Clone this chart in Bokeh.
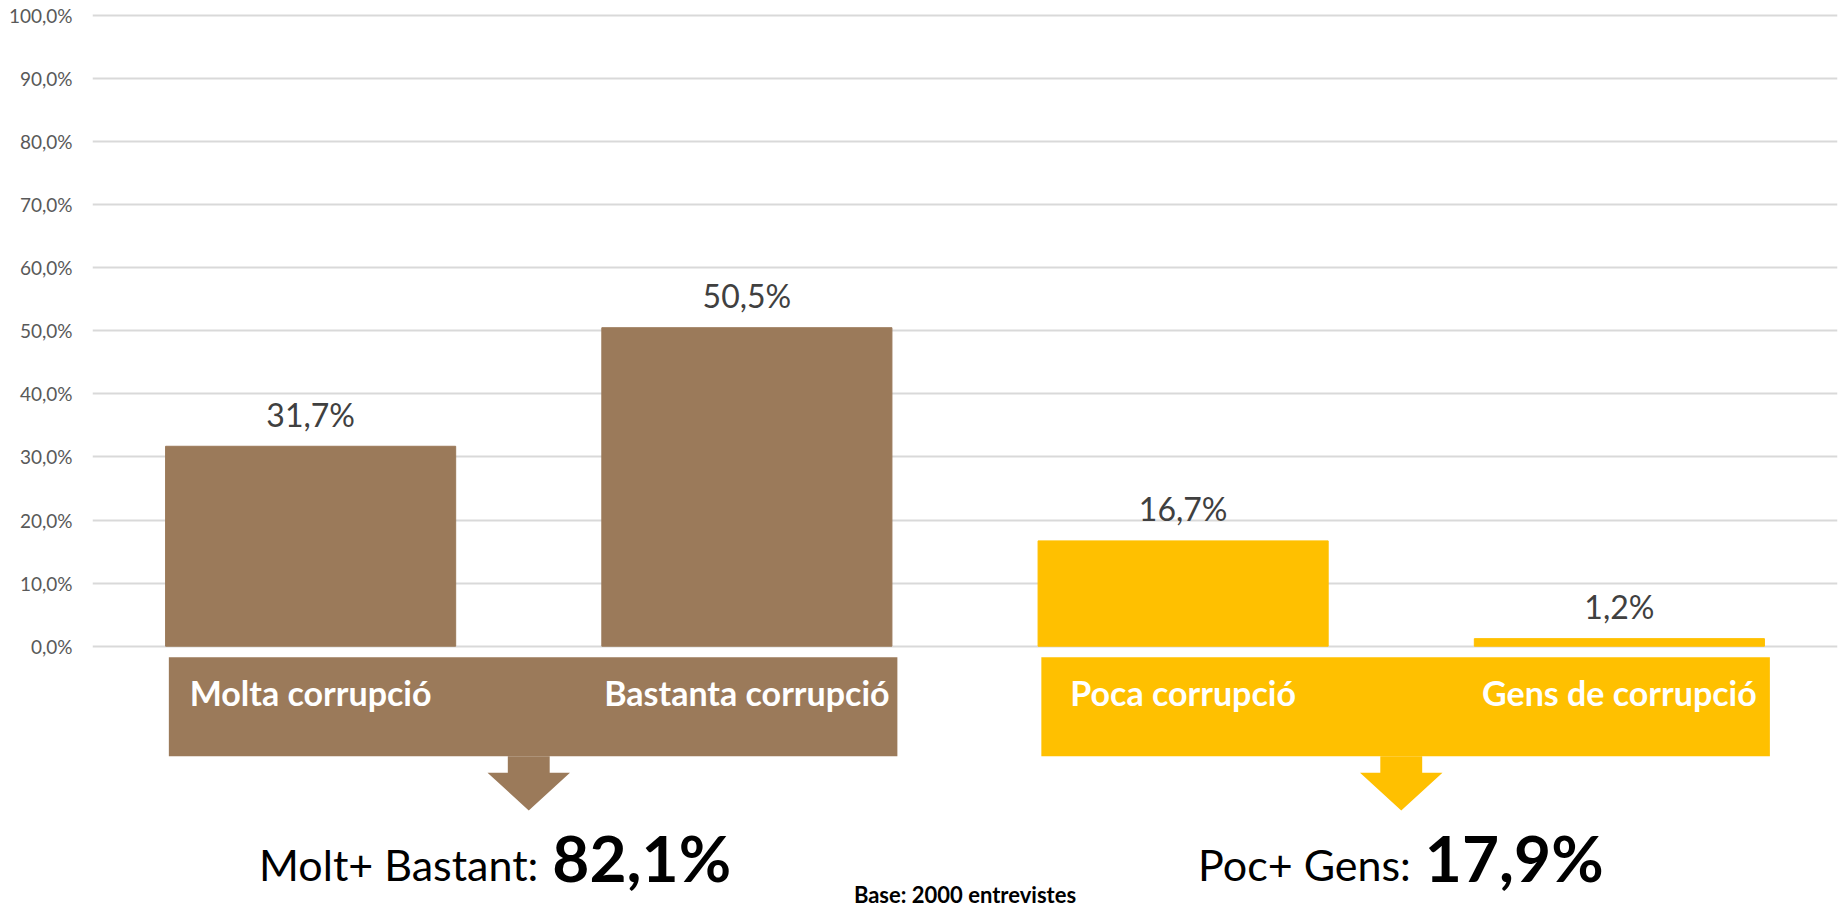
from bokeh.plotting import figure
from bokeh.models import ColumnDataSource, Range1d, FixedTicker
from bokeh.core.properties import value
from bokeh.embed import file_html
from bokeh.resources import INLINE

# ---- data ----
categories = ["Molta corrupció", "Bastanta corrupció", "Poca corrupció", "Gens de corrupció"]
values = [31.7, 50.5, 16.7, 1.2]
group_labels = ["Molt+ Bastant:", "Poc+ Gens:"]
group_totals = [82.1, 17.9]
group_members = [[0, 1], [2, 3]]
y_ticks = [0, 10, 20, 30, 40, 50, 60, 70, 80, 90, 100]
y_tick_labels = ["0,0%", "10,0%", "20,0%", "30,0%", "40,0%", "50,0%",
                 "60,0%", "70,0%", "80,0%", "90,0%", "100,0%"]
base_note = "Base: 2000 entrevistes"

# ---- style ----
BROWN = "#9B7A5A"
GOLD = "#FFC000"
group_colors = [BROWN, GOLD]
FONT = value("Lato")
DROP = 0.35  # baseline correction factor (em)

def fmt(v):
    return ("%.1f" % v).replace(".", ",") + "%"

W, H = 1845, 907
p = figure(width=W, height=H, output_backend="svg", toolbar_location=None,
           x_range=Range1d(0, 4), y_range=Range1d(-41.43, 102.38),
           min_border_left=92, min_border_right=8, min_border_top=0, min_border_bottom=0)
p.outline_line_color = None
p.background_fill_color = "white"
p.border_fill_color = "white"
p.xaxis.visible = False
p.xgrid.visible = False

yax = p.yaxis[0]
yax.ticker = FixedTicker(ticks=y_ticks)
yax.major_label_overrides = {t: l for t, l in zip(y_ticks, y_tick_labels)}
yax.axis_line_color = None
yax.major_tick_line_color = None
yax.minor_tick_line_color = None
yax.major_tick_in = 0
yax.major_tick_out = 0
yax.major_label_standoff = 20
yax.major_label_text_font = "Lato"
yax.major_label_text_font_size = "19px"
yax.major_label_text_color = "#595959"
p.ygrid.ticker = FixedTicker(ticks=y_ticks)
p.ygrid.grid_line_color = "#D9D9D9"
p.ygrid.grid_line_width = 2

xs = [i + 0.5 for i in range(len(categories))]
bar_colors = []
for g, members in enumerate(group_members):
    for m in members:
        bar_colors.append(group_colors[g])

src = ColumnDataSource(dict(x=xs, top=values, color=bar_colors, cat=categories,
                            lab=[fmt(v) for v in values]))
p.vbar(x="x", top="top", bottom=0, width=0.665, color="color", source=src)
p.text(x="x", y="top", text="lab", source=src, text_align="center",
       text_baseline="alphabetic", y_offset=-21 - DROP * 32, text_font=FONT,
       text_font_size="32px", text_color="#404040")

# group boxes and arrows
box_l, box_r, box_t, box_b = [], [], [], []
arrow_xs, arrow_ys = [], []
centers = []
for g, members in enumerate(group_members):
    lo, hi = min(members), max(members) + 1
    c = (lo + hi) / 2.0
    centers.append(c)
    box_l.append(lo + 0.175)
    box_r.append(hi - 0.155)
    box_t.append(-1.75)
    box_b.append(-17.45)
    sw, hw = 0.048, 0.0945
    ys0, ys1, ytip = -17.45, -20.07, -26.05
    arrow_xs.append([c - sw, c + sw, c + sw, c + hw, c, c - hw, c - sw])
    arrow_ys.append([ys0, ys0, ys1, ys1, ytip, ys1, ys1])

p.quad(left=box_l, right=box_r, top=box_t, bottom=box_b, color=group_colors, line_color=None)
p.patches(xs=arrow_xs, ys=arrow_ys, color=group_colors, line_color=None)

# category labels inside boxes
p.text(x="x", y=-9.29, text="cat", source=src, text_align="center",
       text_baseline="alphabetic", y_offset=-DROP * 34, text_font=FONT,
       text_font_style="bold", text_font_size="34px", text_color="white")

# group totals
gsrc = ColumnDataSource(dict(x=[c + 0.022 for c in centers], lab=group_labels,
                             tot=[fmt(v) for v in group_totals]))
p.text(x="x", y=-37.04, text="lab", source=gsrc, text_align="right",
       text_baseline="alphabetic", y_offset=-DROP * 43, text_font=FONT,
       text_font_size="43px", text_color="black")
p.text(x="x", y=-37.04, text="tot", source=gsrc, text_align="left", x_offset=14,
       text_baseline="alphabetic", y_offset=-DROP * 64, text_font=FONT,
       text_font_style="bold", text_font_size="64px", text_color="black")

p.text(x=[2.0], y=[-40.59], text=[base_note], text_align="center",
       text_baseline="alphabetic", y_offset=-DROP * 22, text_font=FONT,
       text_font_style="bold", text_font_size="22px", text_color="black")

open("out.html", "w").write(file_html(p, INLINE))
